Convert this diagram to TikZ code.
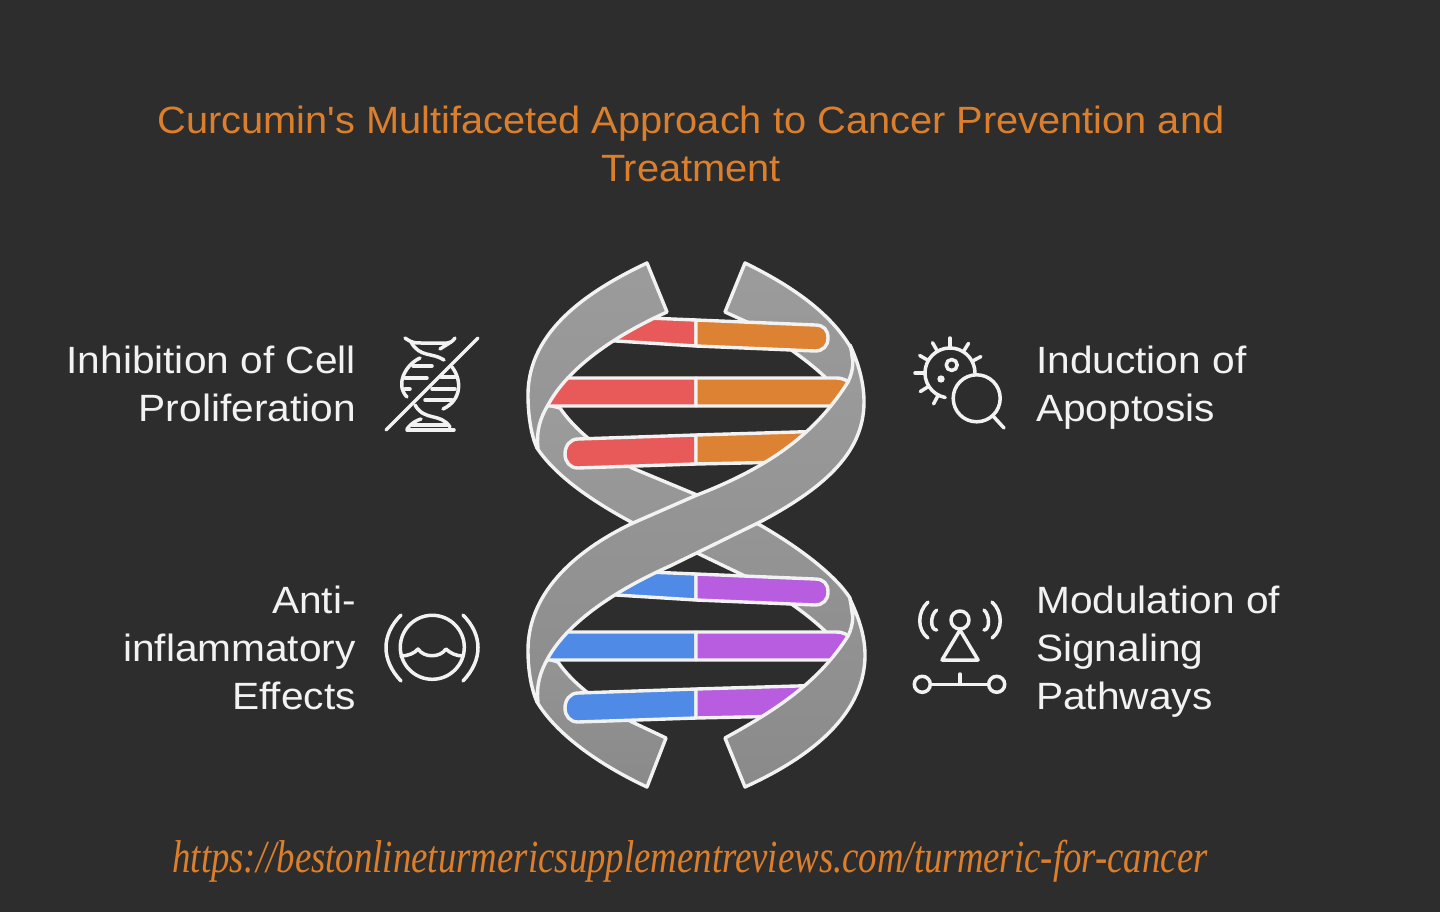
\documentclass[tikz,border=0pt]{standalone}
\usepackage{fontspec}
\setmainfont[FakeStretch=1.07]{Liberation Sans}
\newfontfamily\titlefont[FakeStretch=1.047]{Liberation Sans}
\newfontfamily\urlfont[ItalicFont={Liberation Serif Italic},FakeStretch=0.80]{Liberation Serif}
\definecolor{pagebg}{HTML}{2D2D2D}
\definecolor{edgewhite}{HTML}{F2F2F2}
\definecolor{titleorange}{HTML}{DB7F2C}
\definecolor{rungred}{HTML}{E85A5A}
\definecolor{rungorange}{HTML}{DC8232}
\definecolor{rungblue}{HTML}{4F8AE6}
\definecolor{rungpurple}{HTML}{B85CE0}
\tikzset{
	ribbon/.style={draw=edgewhite, line width=3.4pt, line join=round},
	rung/.style={draw=edgewhite, line width=3.4pt, line join=round},
	icon/.style={draw=edgewhite, line width=3.5pt, line cap=round, line join=round},
	label/.style={text=edgewhite, inner sep=0pt, font=\fontsize{38}{48}\selectfont},
}
\def\dnarungs#1#2{
	\draw[rung, fill=#1] (696,320) -- (600,316) -- (600,340) -- (696,346) -- cycle;
	\draw[rung, fill=#2] (696,320) -- (815,325) .. controls (824,325) and (828,330) .. (828,338) .. controls (828,346) and (823,351) .. (815,351) -- (696,346) -- cycle;
	\draw[rung, fill=#1] (696,378) -- (555,378) -- (535,406) -- (696,406) -- cycle;
	\draw[rung, fill=#2] (696,378) -- (836,378) .. controls (844,378) and (848,381) .. (851,385) -- (835,406) -- (696,406) -- cycle;
	\draw[rung, fill=#1] (696,435) -- (578,439) .. controls (570,439) and (565,446) .. (565,454) .. controls (565,462) and (570,468) .. (578,468) -- (696,464) -- cycle;
	\draw[rung, fill=#2] (696,435) -- (830,431) -- (790,462) -- (696,464) -- cycle;
}

\begin{document}
\begin{tikzpicture}[x=1pt,y=-1pt]
	%%%%% START %%%%%
	\useasboundingbox (0,0) rectangle (1440,912);
	\fill[pagebg] (0,0) rectangle (1440,912);

	\node[text=titleorange, inner sep=0pt, align=center, font=\titlefont\fontsize{38}{48}\selectfont] (title) at (691,144) {Curcumin's Multifaceted Approach to Cancer Prevention and\\Treatment};

	% back of the helix
	\draw[ribbon, top color=black!39, bottom color=black!44] (548,405) -- (560,408) .. controls (575,430) and (600,450) .. (632,468) -- (697,495) -- (760,525) .. controls (800,548) and (835,575) .. (850,598) -- (856,640) -- (835,644) -- (825,631) .. controls (805,612) and (780,595) .. (747,577) -- (697,553) -- (633,523) .. controls (590,500) and (555,475) .. (537,448) -- (533,425) -- cycle;
	\draw[ribbon, top color=black!39, bottom color=black!41] (745,263) -- (725,312) -- (747,322) .. controls (775,338) and (805,358) .. (825,377) -- (835,390) -- (856,385) -- (851,348) .. controls (830,312) and (790,285) .. (745,263) -- cycle;
	\draw[ribbon, top color=black!42, bottom color=black!46] (548,659) -- (558,662) .. controls (573,684) and (600,704) .. (632,722) -- (666,738) -- (647,787) .. controls (600,765) and (557,735) .. (537,702) -- (533,680) -- cycle;

	\dnarungs{rungred}{rungorange}
	\begin{scope}[shift={(0,254)}]
		\dnarungs{rungblue}{rungpurple}
	\end{scope}

	% front of the helix
	\draw[ribbon, top color=black!39, bottom color=black!42] (647,263) -- (667,312) .. controls (614,336) and (568,368) .. (548,405) .. controls (540,418) and (536,432) .. (538,448) -- (537,448) .. controls (531,435) and (528,415) .. (528,395) .. controls (528,330) and (590,290) .. (647,263) -- cycle;
	\draw[ribbon, top color=black!39, bottom color=black!45] (850,345) .. controls (854,358) and (854,370) .. (848,382) .. controls (820,426) and (780,463) .. (697,495) -- (633,523) .. controls (580,548) and (528,590) .. (528,650) .. controls (528,670) and (531,688) .. (537,702) -- (538,702) .. controls (536,686) and (540,672) .. (548,658) .. controls (568,622) and (616,590) .. (670,566) -- (760,522) .. controls (820,490) and (864,455) .. (864,402) .. controls (864,382) and (858,362) .. (850,345) -- cycle;
	\draw[ribbon, top color=black!42, bottom color=black!46] (850,599) .. controls (854,612) and (854,624) .. (848,636) .. controls (820,680) and (780,708) .. (725,738) -- (745,787) .. controls (800,762) and (865,720) .. (865,655) .. controls (865,635) and (858,616) .. (850,599) -- cycle;

	% labels
	\node[label, anchor=east, align=right] (inhibition) at (356,384) {Inhibition of Cell\\Proliferation};
	\node[label, anchor=east, align=right] (antiinflam) at (356,648) {Anti-\\inflammatory\\Effects};
	\node[label, anchor=west, align=left] (apoptosis) at (1036,388) {Induction of\\Apoptosis};
	\node[label, anchor=west, align=left] (signaling) at (1036,652) {Modulation of\\Signaling\\Pathways};

	% crossed helix icon
	\draw[icon] (405,338) .. controls (412,343) and (415,343) .. (421,343) -- (447,343) .. controls (450,343) and (452,342) .. (455,338);
	\draw[icon] (411,342) .. controls (420,358) and (432,352) .. (444,360);
	\draw[icon] (440,349) -- (451,342);
	\draw[icon] (420,358) .. controls (405,365) and (395,385) .. (407,397);
	\draw[icon] (413,366) -- (432,366);
	\draw[icon] (405,378) -- (427,378);
	\draw[icon] (405,389) -- (410,389);
	\draw[icon] (452,367) .. controls (462,380) and (462,400) .. (443,409);
	\draw[icon] (441,377) -- (455,377);
	\draw[icon] (432,389) -- (455,389);
	\draw[icon] (425,400) -- (452,400);
	\draw[icon] (415,405) .. controls (425,422) and (440,412) .. (450,427);
	\draw[icon] (407,429) .. controls (412,422) and (418,420) .. (421,419);
	\draw[icon] (407,430) -- (454,430);
	\draw[icon] (412,425) -- (447,425);
	\draw[icon] (386,430) -- (478,338);

	% water icon
	\draw[icon] (432.3,647.3) circle (32);
	\draw[icon] (401,656) .. controls (408,656) and (415,653) .. (418,649) .. controls (424,658) and (440,658) .. (446,649) .. controls (450,653) and (456,656) .. (463,656);
	\draw[icon] (401,615) .. controls (381,635) and (381,660) .. (401,681);
	\draw[icon] (463,615) .. controls (483,635) and (483,660) .. (463,681);

	% cell and lens icon
	\draw[icon] (945.2,397.5) arc (101:360:25);
	\foreach \spikeangle in {270,302,332,180,210,240,148,118}
		\draw[icon] (950,373) ++(\spikeangle:25) -- ++(\spikeangle:10);
	\draw[icon] (951.7,365) circle (5.5);
	\fill[edgewhite] (941,379) circle (3.7);
	\draw[icon] (976.7,398.3) circle (23.5);
	\draw[icon] (993,416) -- (1004,428);

	% signal icon
	\draw[icon] (960,620) circle (9);
	\draw[icon] (960,630) -- (942,660) -- (978,660) -- cycle;
	\draw[icon] (936.7,610) .. controls (930,615) and (930,630) .. (936.7,630);
	\draw[icon] (984,610) .. controls (990,615) and (990,630) .. (984,630);
	\draw[icon] (928,602) .. controls (917,612) and (917,630) .. (928,638);
	\draw[icon] (992,602) .. controls (1003,612) and (1003,630) .. (992,638);
	\draw[icon] (922.3,684.3) circle (8);
	\draw[icon] (996.7,684.3) circle (8);
	\draw[icon] (931,684.3) -- (988,684.3);
	\draw[icon] (960,674) -- (960,684.3);

	\node[text=titleorange, inner sep=0pt, font=\urlfont\itshape\fontsize{46}{48}\selectfont] (url) at (690,861) {https://bestonlineturmericsupplementreviews.com/turmeric-for-cancer};
	%%%%% END %%%%%
\end{tikzpicture}
\end{document}
